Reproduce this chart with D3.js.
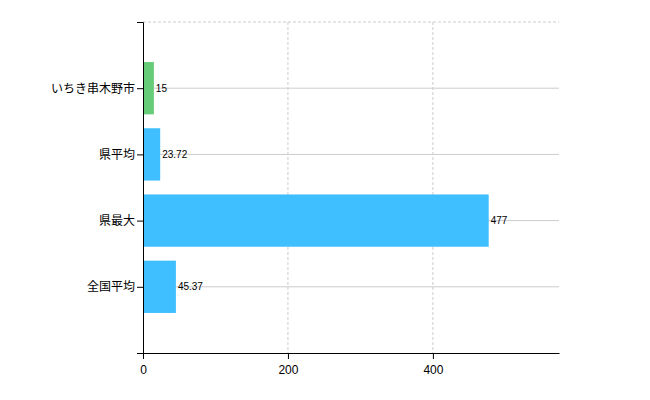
<!DOCTYPE html>
<html><head><meta charset="utf-8">
<script src="https://cdn.jsdelivr.net/npm/d3@7"></script>
<style>body{margin:0;background:#fff}</style>
</head><body><div id="main_area"></div>
<script>
var categories = ["いちき串木野市", "県平均", "県最大", "全国平均"];
var values = [15, 23.72, 477, 45.37];
var labels = ["15", "23.72", "477", "45.37"];
var colors = ["#66cc77", "#3fbfff", "#3fbfff", "#3fbfff"];
var xTicks = [0, 200, 400];

var margin = {top: 22, right: 91, bottom: 47, left: 143},
    width = 650 - margin.left - margin.right,
    height = 400 - margin.top - margin.bottom;

var svg = d3.select("#main_area").append("svg")
    .attr("width", 650).attr("height", 400)
    .style("font-family", "Arial, 'Noto Sans CJK JP', sans-serif")
    .append("g")
    .attr("transform", "translate(" + margin.left + "," + margin.top + ")");

var xScale = d3.scaleLinear().domain([0, 574]).range([0, width]);
var yScale = d3.scalePoint().domain(categories).range([0, height]).padding(1);
var barH = yScale.step() * 0.79;

// グリッド
svg.append("line").attr("x1", 0).attr("x2", width).attr("y1", 0).attr("y2", 0)
    .attr("stroke", "#ccc").attr("stroke-dasharray", "3,2");
svg.selectAll("line.vg").data(xTicks.slice(1)).enter().append("line")
    .attr("x1", function (d) { return xScale(d); }).attr("x2", function (d) { return xScale(d); })
    .attr("y1", 0).attr("y2", height)
    .attr("stroke", "#ccc").attr("stroke-dasharray", "3,2");
svg.selectAll("line.hg").data(categories).enter().append("line")
    .attr("x1", 0).attr("x2", width)
    .attr("y1", function (d) { return yScale(d); }).attr("y2", function (d) { return yScale(d); })
    .attr("stroke", "#ccc");

svg.selectAll("rect").data(values).enter().append("rect")
    .attr("x", 0)
    .attr("y", function (d, i) { return yScale(categories[i]) - barH / 2; })
    .attr("width", function (d) { return xScale(d); })
    .attr("height", barH)
    .attr("fill", function (d, i) { return colors[i]; });

svg.selectAll("text.val").data(values).enter().append("text")
    .attr("x", function (d) { return xScale(d) + 2; })
    .attr("y", function (d, i) { return yScale(categories[i]); })
    .attr("dy", "0.35em")
    .attr("font-size", 10)
    .text(function (d, i) { return labels[i]; });

var xAxis = svg.append("g").attr("transform", "translate(0," + height + ")")
    .call(d3.axisBottom(xScale).tickValues(xTicks).tickSizeOuter(0).tickPadding(6));
var yAxis = svg.append("g")
    .call(d3.axisLeft(yScale).tickSizeOuter(6).tickPadding(2));
[xAxis, yAxis].forEach(function (a) {
    a.selectAll("text").attr("font-size", 12).attr("fill", "#000")
        .style("font-family", "Arial, 'Noto Sans CJK JP', sans-serif");
    a.selectAll("line,path").attr("stroke", "#000");
});
</script></body></html>
